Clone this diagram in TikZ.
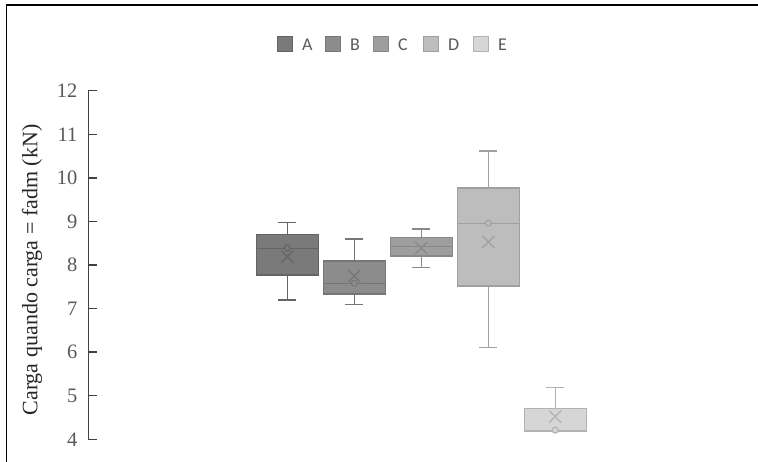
\documentclass[tikz,border=0pt]{standalone}
\usepackage{fontspec}
\setmainfont{Liberation Serif}
\newfontfamily\serfont{Liberation Serif}
\newfontfamily\legfont{Carlito}
\definecolor{fA}{RGB}{122,122,122}\definecolor{lA}{RGB}{100,100,100}
\definecolor{fB}{RGB}{140,140,140}\definecolor{lB}{RGB}{118,118,118}
\definecolor{fC}{RGB}{158,158,158}\definecolor{lC}{RGB}{136,136,136}
\definecolor{fD}{RGB}{189,189,189}\definecolor{lD}{RGB}{160,160,160}
\definecolor{fE}{RGB}{214,214,214}\definecolor{lE}{RGB}{178,178,178}
\definecolor{axisc}{RGB}{64,64,64}
\definecolor{tickc}{RGB}{89,89,89}
\definecolor{titlec}{RGB}{38,38,38}
\tikzset{
  frameline/.style={line width=1.6pt,black},
  axisline/.style={line width=1.4pt,axisc},
  ticklabel/.style={anchor=east,text=tickc,font=\serfont\fontsize{20.5}{22}\selectfont,inner sep=0pt},
  legsq/.style={minimum size=15pt,inner sep=0pt,line width=0.8pt},
  legtxt/.style={anchor=west,text=tickc,font=\legfont\fontsize{18}{20}\selectfont,inner sep=0pt},
}
% #1 xc, #2 q1, #3 med, #4 q3, #5 wlo, #6 whi, #7 mean, #8 color key
\newcommand\bxplt[8]{%
  \draw[line width=1.4pt,l#8] (#1,#4) -- (#1,#6) (#1-9,#6) -- (#1+9,#6);
  \draw[line width=1.4pt,l#8] (#1,#2) -- (#1,#5) (#1-9,#5) -- (#1+9,#5);
  \draw[line width=1.4pt,l#8,fill=f#8] (#1-31,#2) rectangle (#1+31,#4);
  \draw[line width=1.2pt,l#8] (#1-31,#3) -- (#1+31,#3);
  \draw[line width=1.2pt,l#8] (#1-6,#7) ++(0,-6pt) -- ++(12,12pt) ++(-12,0) -- ++(12,-12pt);
}
\begin{document}
\begin{tikzpicture}[x=1pt,y=1pt]
\useasboundingbox (0,0) rectangle (758,462);
\fill[white] (0,0) rectangle (758,462);
% frame (top and left)
\draw[frameline] (6.5,0) -- (6.5,457) -- (758,457);
% legend
\foreach \k/\xx in {A/277,B/325,C/373,D/423,E/473}{
  \node[legsq,draw=l\k,fill=f\k,anchor=north west] (sq\k) at (\xx,425.5) {};
  \node[legtxt] (lt\k) at ([xshift=9pt]sq\k.east) {\k};
}
% axis
\begin{scope}[shift={(0,-151.6)},y=43.575pt]
  \draw[axisline] (88.3,4) -- (88.3,12);
  \foreach \v in {4,...,12}{
    \draw[axisline] (88.3,\v) -- (96.7,\v);
    \node[ticklabel] (t\v) at (77.5,\v) {\v};
  }
  \bxplt{287.2}{7.77}{8.38}{8.70}{7.20}{8.98}{8.19}{A}
  \bxplt{354.3}{7.33}{7.58}{8.09}{7.10}{8.60}{7.75}{B}
  \bxplt{421.2}{8.21}{8.43}{8.63}{7.94}{8.83}{8.39}{C}
  \bxplt{488.3}{7.52}{8.96}{9.77}{6.11}{10.62}{8.53}{D}
  \bxplt{555.2}{4.19}{4.19}{4.70}{4.19}{5.19}{4.52}{E}
  \draw[line width=1.1pt,lA,fill=fA] (287.2,8.39) circle (3pt);
  \draw[line width=1.1pt,lB,fill=fB] (354.3,7.58) circle (3pt);
  \draw[line width=1.1pt,lD,fill=fD] (488.3,8.96) circle (3pt);
  \draw[line width=1.1pt,lE,fill=fE] (555.2,4.21) circle (3pt);
\end{scope}
% axis title
\node[rotate=90,text=titlec,font=\serfont\fontsize{22}{24}\selectfont,inner sep=0pt] (ytitle) at (32,192) {Carga quando carga = fadm (kN)};
\end{tikzpicture}
\end{document}
